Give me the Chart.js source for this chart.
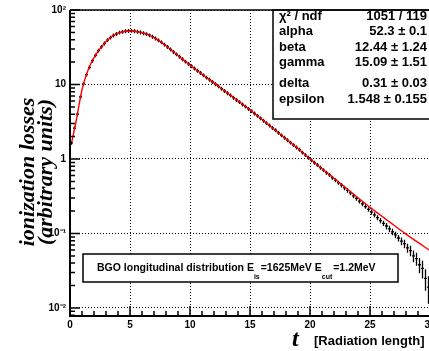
<!DOCTYPE html>
<html>
<head>
<meta charset="utf-8">
<script src="https://cdn.jsdelivr.net/npm/chart.js@4.4.1/dist/chart.umd.min.js"></script>
<style>
  html, body { margin: 0; padding: 0; background: #fff; overflow: hidden; }
  #wrap { width: 429px; height: 351px; overflow: hidden; }
  #wrap canvas { display: block; }
</style>
</head>
<body>
<div id="wrap"><canvas id="showerChart" width="445" height="351"></canvas></div>
<script>
/*********************************************/
/*   BGO longitudinal shower profile data    */
/*********************************************/

// histogram bins (0.25 X0 wide)
const binLow = 0;
const binWidth = 0.25;
const histValues = [
  1.65, 2.6, 4.0, 6.8, 10.2, 13.6, 17.0, 20.9, 24.6, 28.5,
  32.0, 35.6, 39.5, 42.6, 45.5, 47.8, 49.8, 51.0, 51.9, 52.3,
  52.5, 52.0, 51.2, 50.0, 48.9, 47.5, 45.8, 43.9, 41.6, 39.2,
  36.8, 34.3, 31.9, 29.6, 27.4, 25.4, 23.6, 21.9, 20.3, 18.9,
  17.6, 16.4, 15.3, 14.3, 13.3, 12.4, 11.6, 10.8, 10.1, 9.45,
  8.8, 8.2, 7.65, 7.15, 6.65, 6.2, 5.8, 5.4, 5.05, 4.7,
  4.4, 4.08, 3.8, 3.52, 3.27, 3.03, 2.82, 2.61, 2.43, 2.25,
  2.08, 1.93, 1.79, 1.66, 1.54, 1.43, 1.33, 1.22, 1.13, 1.04,
  0.96, 0.89, 0.83, 0.765, 0.71, 0.655, 0.61, 0.56, 0.52, 0.48,
  0.445, 0.41, 0.38, 0.35, 0.32, 0.296, 0.272, 0.25, 0.23, 0.211,
  0.194, 0.178, 0.163, 0.149, 0.137, 0.126, 0.115, 0.105, 0.096, 0.087,
  0.079, 0.073, 0.064, 0.059, 0.050, 0.046, 0.038, 0.034, 0.025, 0.019
];
// relative error of each bin
const histRelErr = [
  0.06, 0.06, 0.06, 0.06, 0.06, 0.06, 0.06, 0.06, 0.06, 0.06,
  0.06, 0.06, 0.06, 0.06, 0.06, 0.06, 0.06, 0.06, 0.06, 0.06,
  0.06, 0.06, 0.06, 0.06, 0.06, 0.06, 0.06, 0.06, 0.06, 0.06,
  0.06, 0.06, 0.06, 0.06, 0.06, 0.06, 0.06, 0.06, 0.06, 0.06,
  0.06, 0.06, 0.06, 0.06, 0.06, 0.06, 0.06, 0.06, 0.06, 0.06,
  0.06, 0.06, 0.06, 0.06, 0.06, 0.06, 0.06, 0.06, 0.06, 0.06,
  0.06, 0.06, 0.06, 0.06, 0.06, 0.06, 0.06, 0.06, 0.06, 0.06,
  0.06, 0.06, 0.06, 0.06, 0.06, 0.06, 0.06, 0.06, 0.06, 0.06,
  0.06, 0.06, 0.06, 0.06, 0.06, 0.06, 0.06, 0.06, 0.06, 0.06,
  0.07, 0.07, 0.07, 0.07, 0.07, 0.07, 0.07, 0.07, 0.07, 0.07,
  0.08, 0.08, 0.08, 0.08, 0.08, 0.10, 0.10, 0.10, 0.10, 0.10,
  0.12, 0.13, 0.14, 0.16, 0.18, 0.20, 0.23, 0.27, 0.32, 0.40
];

// fitted function (red curve)
const fitT = [
  0.15, 0.5, 1, 1.5, 2, 2.5, 3, 3.5, 4, 4.5, 5, 5.5, 6, 6.5, 7, 7.5,
  8, 8.5, 9, 9.5, 10, 10.5, 11, 11.5, 12, 12.5, 13, 13.5, 14, 14.5, 15,
  15.5, 16, 16.5, 17, 17.5, 18, 18.5, 19, 19.5, 20, 20.5, 21, 21.5, 22,
  22.5, 23, 23.5, 24, 24.5, 25, 25.5, 26, 26.5, 27, 27.5, 28, 28.5, 29, 29.5, 30
];
const fitValues = [
  1.70, 3.16, 8.5, 15.5, 22.9, 30.2, 37.6, 44.2, 49.0, 51.5, 52.2, 51.5, 49.5, 46.8, 42.7, 38.0,
  33.1, 28.5, 24.5, 21.1, 18.2, 15.8, 13.8, 12.0, 10.5, 9.1, 7.94, 6.92, 6.03, 5.25, 4.57,
  3.94, 3.39, 2.92, 2.51, 2.16, 1.86, 1.60, 1.38, 1.175, 1.00, 0.861, 0.741, 0.638, 0.550,
  0.473, 0.407, 0.351, 0.302, 0.260, 0.224, 0.195, 0.170, 0.148, 0.129, 0.112, 0.098, 0.0861, 0.0759, 0.0668, 0.0589
];

// axis ticks
const xMin = 0, xMax = 30, xTickStep = 5;
const yMin = 0.0078, yMax = 100;
const yTickValues = [0.01, 0.1, 1, 10, 100];
const yTickLabels = ['10\u207B\u00B2', '10\u207B\u00B9', '1', '10', '10\u00B2'];

// fit statistics box
const statNames = ['\u03C7\u00B2 / ndf', 'alpha', 'beta', 'gamma', 'delta', 'epsilon'];
const statValues = ['1051 / 119', '52.3 \u00B1 0.1', '12.44 \u00B1 1.24', '15.09 \u00B1 1.51', '0.31 \u00B1 0.03', '1.548 \u00B1 0.155'];

const binCenters = histValues.map((v, i) => binLow + (i + 0.5) * binWidth);
const histPoints = histValues.map((v, i) => ({ x: binCenters[i], y: v }));
const fitPoints = fitValues.map((v, i) => ({ x: fitT[i], y: v }));

const SANS = "'Liberation Sans', Arial, sans-serif";
const SERIF = "'Liberation Serif', 'Times New Roman', serif";

// crosses with error bars for the histogram
const crossPlugin = {
  id: 'histCrosses',
  afterDatasetDraw(chart, args) {
    if (args.index !== 1) return;
    const { ctx, chartArea: a, scales: { x, y } } = chart;
    ctx.save();
    ctx.beginPath();
    ctx.rect(a.left, a.top, a.right - a.left, a.bottom - a.top);
    ctx.clip();
    ctx.strokeStyle = '#000';
    ctx.lineWidth = 1.3;
    ctx.beginPath();
    binCenters.forEach((t, i) => {
      const v = histValues[i];
      const e = v * histRelErr[i];
      const py = y.getPixelForValue(v);
      const px = x.getPixelForValue(t);
      ctx.moveTo(x.getPixelForValue(t - binWidth / 2), py);
      ctx.lineTo(x.getPixelForValue(t + binWidth / 2), py);
      ctx.moveTo(px, y.getPixelForValue(v + e));
      ctx.lineTo(px, y.getPixelForValue(v - e));
    });
    ctx.stroke();
    ctx.restore();
  }
};

// stats box + legend box, drawn over the grid
const boxPlugin = {
  id: 'rootBoxes',
  beforeDatasetsDraw(chart) {
    const ctx = chart.ctx;
    ctx.save();
    ctx.lineWidth = 1.5;
    ctx.strokeStyle = '#000';
    ctx.fillStyle = '#fff';

    // stats
    ctx.fillRect(273, 10, 180, 109);
    ctx.strokeRect(273, 10, 180, 109);
    const rowY = [20, 35, 51, 66, 87, 103];
    ctx.fillStyle = '#000';
    ctx.font = 'bold 13px ' + SANS;
    ctx.textBaseline = 'alphabetic';
    statNames.forEach((name, i) => {
      ctx.textAlign = 'left';
      ctx.fillText(name, 279, rowY[i]);
      ctx.textAlign = 'right';
      ctx.fillText(statValues[i], 427, rowY[i]);
    });

    // legend
    ctx.fillStyle = '#fff';
    ctx.fillRect(83, 254, 315, 28);
    ctx.strokeRect(83, 254, 315, 28);
    ctx.fillStyle = '#000';
    ctx.textAlign = 'left';
    const parts = [
      ['BGO longitudinal distribution E', 0],
      ['is', 1],
      ['=1625MeV E', 0],
      ['cut', 1],
      ['=1.2MeV', 0]
    ];
    let tx = 97;
    parts.forEach(([txt, sub]) => {
      ctx.font = sub ? 'bold 7px ' + SANS : 'bold 10.5px ' + SANS;
      ctx.fillText(txt, tx, sub ? 279 : 271);
      tx += ctx.measureText(txt).width + (sub ? 1 : 0);
    });
    ctx.restore();
  }
};

// frame, inward ticks, axis titles
const framePlugin = {
  id: 'rootFrame',
  afterDraw(chart) {
    const { ctx, chartArea: a, scales: { x, y } } = chart;
    ctx.save();
    ctx.strokeStyle = '#000';
    ctx.lineWidth = 1.5;
    ctx.beginPath();
    for (let e = -3; e <= 2; e++) {
      for (let m = 1; m <= 9; m++) {
        const v = m * Math.pow(10, e);
        if (v < yMin || v > yMax) continue;
        const py = y.getPixelForValue(v);
        ctx.moveTo(a.left, py);
        ctx.lineTo(a.left + (m === 1 ? 10 : 5), py);
      }
    }
    for (let t = xMin; t <= xMax; t++) {
      const px = x.getPixelForValue(t);
      ctx.moveTo(px, a.bottom);
      ctx.lineTo(px, a.bottom - (t % xTickStep === 0 ? 10 : 5));
    }
    ctx.stroke();

    ctx.lineWidth = 2;
    ctx.beginPath();
    ctx.moveTo(a.left, a.top);
    ctx.lineTo(a.left, a.bottom);
    ctx.lineTo(a.right, a.bottom);
    ctx.stroke();
    ctx.lineWidth = 1.5;
    ctx.beginPath();
    ctx.moveTo(a.left, a.top);
    ctx.lineTo(a.right, a.top);
    ctx.lineTo(a.right, a.bottom);
    ctx.stroke();

    // y title, two lines
    ctx.fillStyle = '#000';
    ctx.font = 'italic bold 22px ' + SERIF;
    ctx.textAlign = 'center';
    ctx.textBaseline = 'alphabetic';
    ctx.save();
    ctx.translate(34, 172);
    ctx.rotate(-Math.PI / 2);
    ctx.fillText('ionization losses', 0, 0);
    ctx.fillText('(arbitrary units)', 0, 18);
    ctx.restore();

    // x title
    ctx.textAlign = 'left';
    ctx.font = 'italic bold 24px ' + SERIF;
    ctx.fillText('t', 292, 346);
    ctx.font = 'bold 13px ' + SANS;
    ctx.fillText('[Radiation length]', 314, 345);
    ctx.restore();
  }
};

Chart.defaults.color = '#000';

const ctx = document.getElementById('showerChart');

const config = {
  type: 'line',
  data: {
    datasets: [
      {
        label: 'fit',
        data: fitPoints,
        borderColor: '#ff0000',
        borderWidth: 1.4,
        pointRadius: 0,
        cubicInterpolationMode: 'monotone',
        fill: false
      },
      {
        label: 'BGO longitudinal distribution',
        data: histPoints,
        showLine: false,
        pointRadius: 0
      }
    ]
  },
  options: {
    responsive: false,
    animation: false,
    layout: { padding: { top: 10, right: 15, left: 0, bottom: 0 } },
    plugins: {
      legend: { display: false },
      tooltip: { enabled: false }
    },
    scales: {
      x: {
        type: 'linear',
        min: xMin,
        max: xMax,
        afterFit: (scale) => { scale.height = 35; },
        ticks: {
          stepSize: xTickStep,
          maxRotation: 0,
          autoSkip: false,
          padding: 3,
          font: { family: SANS, weight: 'bold', size: 10 }
        },
        grid: { drawTicks: false, color: '#000', lineWidth: 1 },
        border: { display: false, dash: [1, 2] }
      },
      y: {
        type: 'logarithmic',
        min: yMin,
        max: yMax,
        afterFit: (scale) => { scale.width = 70; },
        afterBuildTicks: (scale) => {
          scale.ticks = yTickValues.map((v) => ({ value: v }));
        },
        ticks: {
          padding: 4,
          autoSkip: false,
          font: { family: SANS, weight: 'bold', size: 10 },
          callback: (value, index) => yTickLabels[index]
        },
        grid: { drawTicks: false, color: '#000', lineWidth: 1 },
        border: { display: false, dash: [1, 2] }
      }
    }
  },
  plugins: [boxPlugin, crossPlugin, framePlugin]
};

const showerChart = new Chart(ctx, config);
</script>
</body>
</html>
